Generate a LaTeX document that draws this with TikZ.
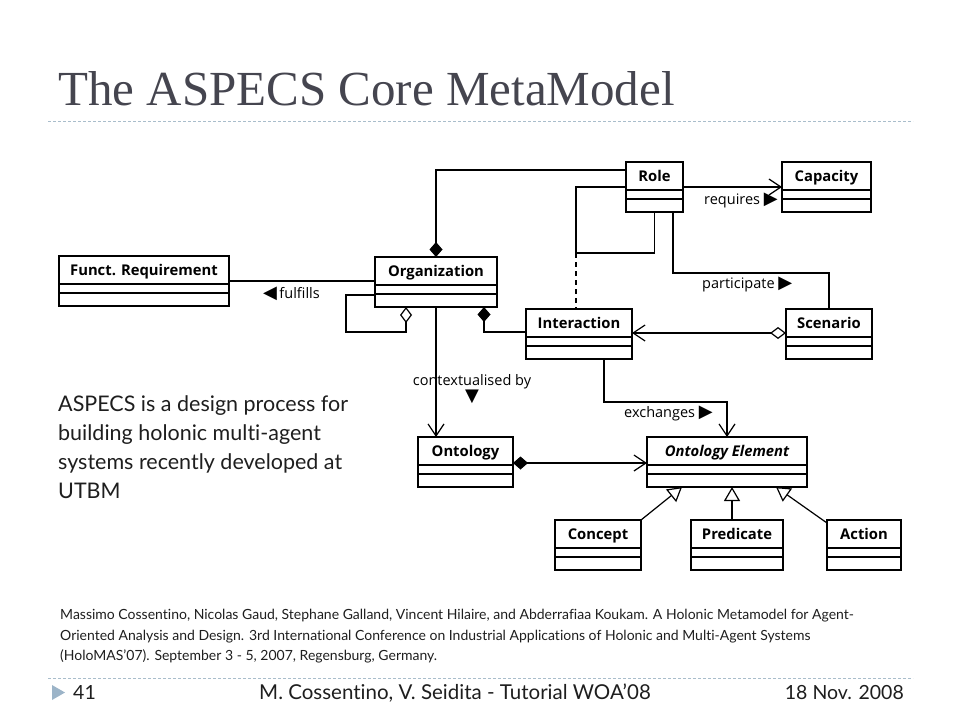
\documentclass[tikz,border=0pt]{standalone}
\usepackage{fontspec}
\setmainfont{Lato}[Ligatures={TeX,NoCommon}]
\newfontfamily\titlefont{Liberation Serif}
\newfontfamily\umlfont{Open Sans}
\newfontfamily\symfont{DejaVu Sans}
\usetikzlibrary{arrows.meta,calc}
\definecolor{titlegray}{HTML}{45454F}
\definecolor{rulegray}{HTML}{A9BDCB}
\definecolor{bulletblue}{HTML}{9CB4C8}
\definecolor{slideink}{HTML}{1E1E1E}
\tikzstyle{classbox}=[draw, line width=2.2pt, inner sep=0pt, outer sep=0pt, minimum height=50pt, text height=19.5pt, text depth=30.5pt, font=\umlfont\fontsize{14.8}{17}\selectfont\bfseries]
\tikzstyle{classrule}=[line width=1.4pt]
\tikzstyle{assoc}=[line width=1.2pt]
\tikzstyle{navig}=[assoc, -{Straight Barb[length=12pt,width=16pt]}]
\tikzstyle{comp}=[assoc, {Diamond[length=15pt,width=13pt]}-]
\tikzstyle{compnav}=[assoc, {Diamond[length=15pt,width=13pt]}-{Straight Barb[length=12pt,width=16pt]}]
\tikzstyle{aggr}=[assoc, {Diamond[open,fill=white,length=16pt,width=12pt]}-]
\tikzstyle{aggrnav}=[assoc, {Diamond[open,fill=white,length=16pt,width=12pt]}-{Straight Barb[length=12pt,width=16pt]}]
\tikzstyle{gen}=[assoc, -{Triangle[open,fill=white,length=14pt,width=16pt]}]
\tikzstyle{lbl}=[inner sep=0pt, font=\umlfont\fontsize{14.5}{16}\selectfont]
\tikzstyle{sepline}=[rulegray, line width=0.8pt, dash pattern=on 3pt off 2pt]
\newcommand{\tri}[1]{{\symfont\fontsize{18}{18}\selectfont #1}}
\newcommand{\umlclass}[4]{
\node[classbox, minimum width=#3, anchor=north west] (#1) at (#2) {#4};
\draw[classrule] ($(#1.north west)+(0,28)$) -- ($(#1.north east)+(0,28)$);
\draw[classrule] ($(#1.north west)+(0,37)$) -- ($(#1.north east)+(0,37)$);
}

\begin{document}
\begin{tikzpicture}[x=1pt,y=-1pt]
\useasboundingbox (0,0) rectangle (960,720);
\node[anchor=base west, inner sep=0pt, titlegray, font=\titlefont\fontsize{49}{56}\selectfont] (title) at (58,105) {The ASPECS Core MetaModel};
\draw[sepline] (48,121) -- (913,121);
\umlclass{role}{626,162}{57}{Role}
\umlclass{cap}{782,162}{89}{Capacity}
\umlclass{freq}{59,256}{170}{Funct. Requirement}
\umlclass{org}{375,257}{122}{Organization}
\umlclass{inter}{526,309}{106}{Interaction}
\umlclass{scen}{786,309}{86}{Scenario}
\umlclass{onto}{418,437}{95}{Ontology}
\umlclass{oelem}{647,437}{160}{\itshape Ontology Element}
\umlclass{concept}{555,520}{86}{Concept}
\umlclass{pred}{691,520}{92}{Predicate}
\umlclass{action}{827,520}{74}{Action}
\coordinate (rolebend) at (576,253);
\coordinate (partbend) at (829,273);
\coordinate (orgloop) at (346,332);
\coordinate (exchbend) at (604,402);
\coordinate (fulfil) at ($(freq.north east)+(0,25)$);
\coordinate (predtop) at ($(pred.north)+(-5,0)$);
\draw[comp] (org.north) |- ($(role.north west)+(0,8)$);
\draw[assoc] ($(role.north west)+(0,25)$) -| (rolebend) -| (role.south);
\draw[assoc, dash pattern=on 5pt off 4pt] (rolebend) -- (rolebend |- inter.north);
\draw[navig] ($(role.north east)+(0,25)$) -- ($(cap.north west)+(0,25)$);
\draw[assoc] ($(role.south east)+(-10,0)$) |- (partbend) -- (scen.north);
\draw[assoc] (fulfil) -- (fulfil -| org.west);
\draw[aggr] ($(org.south west)+(31,0)$) |- (orgloop) |- ($(org.north west)+(0,38)$);
\draw[navig] (org.south) -- (org.south |- onto.north);
\draw[comp] ($(org.south west)+(109,0)$) |- ($(inter.north west)+(0,23)$);
\draw[aggrnav] ($(scen.north west)+(0,24)$) -- ($(inter.north east)+(0,24)$);
\draw[navig] ($(inter.south west)+(78,0)$) |- (exchbend) -| (oelem.north);
\draw[compnav] ($(onto.north east)+(0,26)$) -- ($(oelem.north west)+(0,26)$);
\draw[gen] (concept.north east) -- ($(oelem.south west)+(35,0)$);
\draw[gen] (predtop) -- (predtop |- oelem.south);
\draw[gen] ($(action.north west)+(0,3)$) -- ($(oelem.south east)+(-31,0)$);
\node[lbl, anchor=base west] (reqlbl) at (704,204) {requires \tri{▶}};
\node[lbl, anchor=base west] (partlbl) at (702,288) {participate \tri{▶}};
\node[lbl, anchor=base west] (fullbl) at (263,298) {\tri{◀}\,fulfills};
\node[lbl, anchor=north, align=center] (ctxlbl) at (472,374) {contextualised by\\\tri{▼}};
\node[lbl, anchor=base west] (exlbl) at (624,417) {exchanges \tri{▶}};
\node[anchor=north west, inner sep=0pt, align=left, slideink, font=\fontsize{21.5}{29}\selectfont] (about) at (58,395) {ASPECS is a design process for\\building holonic multi-agent\\systems recently developed at\\UTBM};
\node[anchor=north west, inner sep=0pt, align=left, slideink, font=\fontsize{14}{20.5}\selectfont] (cite) at (60,609) {Massimo Cossentino, Nicolas Gaud, Stephane Galland, Vincent Hilaire, and Abderrafiaa Koukam. A Holonic Metamodel for Agent-\\Oriented Analysis and Design. 3rd International Conference on Industrial Applications of Holonic and Multi-Agent Systems\\(HoloMAS'07). September 3 - 5, 2007, Regensburg, Germany.};
\draw[sepline] (48,678) -- (913,678);
\fill[bulletblue] (52,685) -- (65,692.5) -- (52,700) -- cycle;
\node[anchor=base west, inner sep=0pt, slideink, font=\fontsize{19.5}{22}\selectfont] (pagenum) at (73,699) {41};
\node[anchor=base, inner sep=0pt, slideink, font=\fontsize{20.5}{22}\selectfont] (footer) at (455,699) {M. Cossentino, V. Seidita - Tutorial WOA'08};
\node[anchor=base east, inner sep=0pt, slideink, font=\fontsize{19.5}{22}\selectfont] (date) at (904,699) {18 Nov. 2008};
\end{tikzpicture}
\end{document}
